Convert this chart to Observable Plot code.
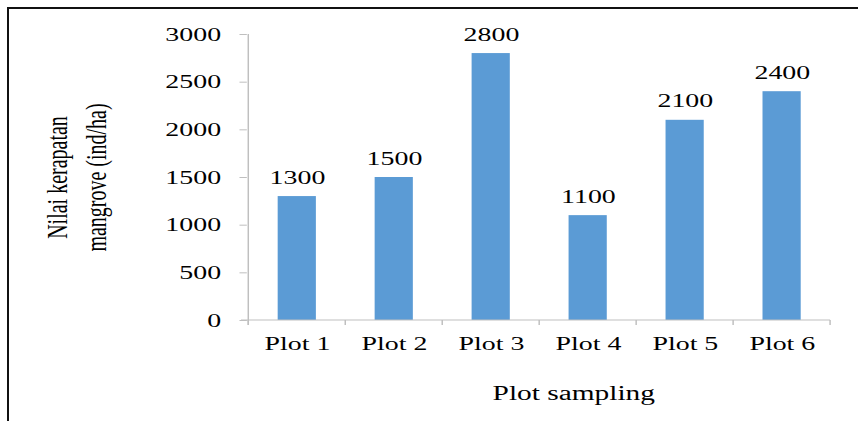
<!DOCTYPE html>
<html><head><meta charset="utf-8">
<script src="https://cdn.jsdelivr.net/npm/d3@7"></script>
<script src="https://cdn.jsdelivr.net/npm/@observablehq/plot@0.6"></script>
<style>
html,body{margin:0;padding:0;background:#fff;}
#wrap{position:relative;width:858px;height:421px;overflow:hidden;background:#fff;}
#chart svg{display:block;}
.bt{position:absolute;left:7px;top:7px;right:0;height:2px;background:#111;}
.bl{position:absolute;left:7px;top:7px;bottom:0;width:2px;background:#111;}
</style></head><body>
<div id="wrap"><div id="chart"></div><div class="bt"></div><div class="bl"></div></div>
<script>
const categories = ["Plot 1", "Plot 2", "Plot 3", "Plot 4", "Plot 5", "Plot 6"];
const values = [1300, 1500, 2800, 1100, 2100, 2400];
const yTicks = [0, 500, 1000, 1500, 2000, 2500, 3000];
const yTitle = "Nilai kerapatan\nmangrove (ind/ha)";
const xTitle = "Plot sampling";

const data = categories.map((c, i) => ({plot: c, value: values[i]}));

const W = 858, H = 421, S = 1.47;
const IW = Math.round(W / S);
const serif = "'Liberation Serif', 'Times New Roman', serif";
const axisColor = "#bfbfbf";
const barColor = "#5b9bd5";

function frameLines(index, scales, vals, dims) {
  const x = scales.x, y = scales.y;
  const bw = typeof x.bandwidth === "function" ? x.bandwidth() : x.bandwidth;
  const step = x(categories[1]) - x(categories[0]);
  const centers = categories.map(c => x(c) + bw / 2);
  const bounds = [centers[0] - step / 2, ...centers.map(c => c + step / 2)];
  const y0 = y(0), yTop = y(d3.max(yTicks));
  const g = d3.create("svg:g").attr("stroke", axisColor).attr("fill", "none").attr("stroke-width", 1);
  g.append("line").attr("x1", bounds[0]).attr("x2", bounds[0]).attr("y1", yTop).attr("y2", y0 + 5);
  g.append("line").attr("x1", bounds[0] - 5).attr("x2", bounds[bounds.length - 1]).attr("y1", y0).attr("y2", y0);
  for (const b of bounds) {
    g.append("line").attr("x1", b).attr("x2", b).attr("y1", y0).attr("y2", y0 + 5);
  }
  return g.node();
}

const svg = Plot.plot({
  width: IW,
  height: H,
  marginLeft: 168,
  marginRight: 17.3,
  marginTop: 34,
  marginBottom: 101,
  style: {background: "transparent", color: "black", fontFamily: serif},
  x: {type: "band", domain: categories, paddingInner: 0.6, paddingOuter: 0.3, align: 0.5},
  y: {domain: [0, 3000]},
  marks: [
    Plot.barY(data, {x: "plot", y: "value", fill: barColor}),
    frameLines,
    Plot.axisY({ticks: yTicks, tickSize: 5, tickPadding: 13, stroke: axisColor, fill: "black",
      fontSize: 19, fontFamily: serif, label: null, tickFormat: d => String(d)}),
    Plot.axisX({tickSize: 0, tickPadding: 16.5, fill: "black", fontSize: 19, fontFamily: serif, label: null}),
    Plot.text(data, {x: "plot", y: "value", text: d => String(d.value), dy: -13, lineAnchor: "bottom",
      fontSize: 19, fontFamily: serif, fill: "black"}),
    Plot.text([yTitle], {frameAnchor: "left", text: d => d, rotate: -90, dx: -118, lineHeight: 1.3,
      textAnchor: "middle", lineAnchor: "middle", fontSize: 20, fontFamily: serif, fill: "black"}),
    Plot.text([xTitle], {frameAnchor: "bottom", text: d => d, dx: 22.7, dy: 79, lineAnchor: "bottom",
      fontSize: 20, fontFamily: serif, fill: "black"})
  ]
});

svg.setAttribute("width", W);
svg.setAttribute("height", H);
svg.setAttribute("preserveAspectRatio", "none");
svg.style.width = W + "px";
svg.style.height = H + "px";
svg.style.maxWidth = "none";
document.getElementById("chart").appendChild(svg);
</script>
</body></html>
